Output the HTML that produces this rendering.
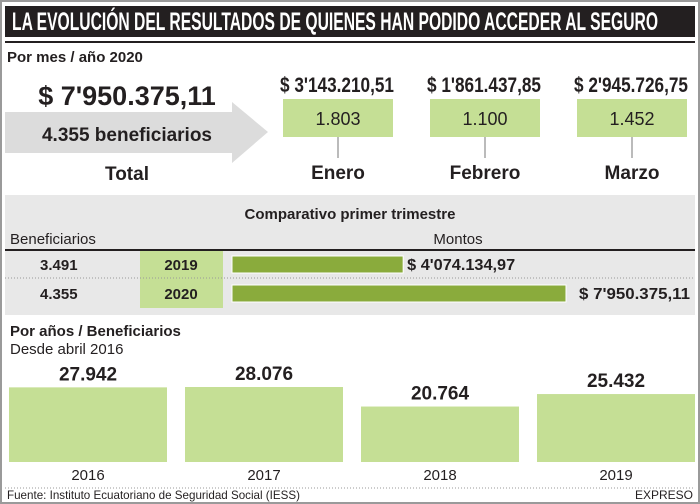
<!DOCTYPE html>
<html><head><meta charset="utf-8"><style>
html,body{margin:0;padding:0;background:#fff}
svg{display:block;font-family:"Liberation Sans",sans-serif}
.n{font-family:"Liberation Sans Narrow","Liberation Sans",sans-serif}
</style></head><body>
<svg width="700" height="504" viewBox="0 0 700 504">
<rect x="1" y="1" width="698" height="502" fill="#fff" stroke="#9a9a9a" stroke-width="2"/>
<rect x="5" y="6" width="690" height="31" fill="#231f20"/>
<text x="12" y="30" fill="#fff" font-size="25" font-weight="bold" class="n" textLength="646" lengthAdjust="spacingAndGlyphs">LA EVOLUCIÓN DEL RESULTADOS DE QUIENES HAN PODIDO ACCEDER AL SEGURO</text>
<rect x="5" y="41" width="690" height="2" fill="#231f20"/>
<text x="7" y="62" font-size="15" font-weight="bold" fill="#231f20">Por mes / año 2020</text>
<polygon points="5,112 232,112 232,102 268,132 232,163 232,153 5,153" fill="#dcdcdc"/>
<text x="127" y="105" text-anchor="middle" font-size="27" font-weight="bold" fill="#231f20">$  7'950.375,11</text>
<text x="127" y="141" text-anchor="middle" font-size="19" font-weight="bold" fill="#231f20">4.355 beneficiarios</text>
<text x="127" y="180" text-anchor="middle" font-size="19" font-weight="bold" fill="#231f20">Total</text>
<g id="months"></g>
<rect x="5" y="195" width="690" height="120" fill="#e8e8e8"/>
<text x="350" y="219" text-anchor="middle" font-size="15" font-weight="bold" class="n" fill="#231f20">Comparativo primer trimestre</text>
<text x="10" y="244" font-size="15" class="n" fill="#231f20">Beneficiarios</text>
<text x="458" y="244" text-anchor="middle" font-size="15" class="n" fill="#231f20">Montos</text>
<rect x="140" y="250" width="83" height="58" fill="#c5df95"/>
<rect x="5" y="249" width="690" height="2" fill="#231f20"/>
<line x1="5" y1="278" x2="695" y2="278" stroke="#999" stroke-dasharray="1,2"/>
<g id="comp"></g>
<text x="10" y="336" font-size="15" font-weight="bold" fill="#231f20" class="n">Por años / Beneficiarios</text>
<text x="10" y="354" font-size="15" fill="#231f20" class="n">Desde abril 2016</text>
<g id="years"></g>
<line x1="5" y1="488" x2="695" y2="488" stroke="#999" stroke-dasharray="1,2"/>
<text x="7" y="499" font-size="12" class="n" fill="#231f20" textLength="293" lengthAdjust="spacingAndGlyphs">Fuente: Instituto Ecuatoriano de Seguridad Social (IESS)</text>
<text x="693" y="499" text-anchor="end" font-size="12" class="n" fill="#231f20">EXPRESO</text>
</svg>
<script>
const NS="http://www.w3.org/2000/svg";
const monthNames=["Enero","Febrero","Marzo"];
const monthAmounts=["$ 3'143.210,51","$ 1'861.437,85","$ 2'945.726,75"];
const monthBenef=["1.803","1.100","1.452"];
const compYears=["2019","2020"];
const compBenef=["3.491","4.355"];
const compAmounts=[4074134.97,7950375.11];
const compAmountLabels=["$ 4'074.134,97","$  7'950.375,11"];
const yearCats=["2016","2017","2018","2019"];
const yearValues=[27942,28076,20764,25432];
const yearLabels=["27.942","28.076","20.764","25.432"];

function mk(tag,attrs,parent,txt){const e=document.createElementNS(NS,tag);for(const k in attrs)e.setAttribute(k,attrs[k]);if(txt!==undefined)e.textContent=txt;parent.appendChild(e);return e;}

const gm=document.getElementById("months");
monthNames.forEach((m,i)=>{
  const x0=283+i*147, cx=x0+55;
  let t=mk("text",{x:x0-3,y:92,"font-size":"21","font-weight":"bold","class":"n",fill:"#231f20",textLength:"114",lengthAdjust:"spacingAndGlyphs"},gm,monthAmounts[i]);
  
  
  let r=mk("rect",{x:x0,y:99,width:110,height:38,fill:"#c5df95"},gm);
  
  
  t=mk("text",{x:cx,y:125,"text-anchor":"middle","font-size":"18",fill:"#231f20"},gm,monthBenef[i]);
  
  
  let l=mk("line",{x1:cx,y1:137,x2:cx,y2:158,stroke:"#777"},gm);
  
  
  t=mk("text",{x:cx,y:179,"text-anchor":"middle","font-size":"19","font-weight":"bold",fill:"#231f20"},gm,m);
  
  
});

const gc=document.getElementById("comp");
const maxA=Math.max(...compAmounts);
const ax=v=>v/maxA*334;
compYears.forEach((y,i)=>{
  const cy=[265,294][i];
  let t=mk("text",{x:40,y:cy+5,"font-size":"15","font-weight":"bold","class":"n",fill:"#231f20"},gc,compBenef[i]);
  
  
  t=mk("text",{x:181,y:cy+5,"text-anchor":"middle","font-size":"15","font-weight":"bold","class":"n",fill:"#231f20"},gc,y);
  
  
  const w=ax(compAmounts[i]);
  let r=mk("rect",{x:232,y:cy-9,width:w,height:17,fill:"#8aab3c",stroke:"#fff","stroke-width":"1"},gc);
  
  
  const lx=i===1?579:232+w+4;
  t=mk("text",{x:lx,y:cy+5,"font-size":"16","font-weight":"bold","class":"n",fill:"#231f20",textLength:(i===1?"111":"108"),lengthAdjust:"spacingAndGlyphs"},gc,compAmountLabels[i]);
  
  
});

const gy=document.getElementById("years");
const base=462, maxV=28076, hMax=75;
const yscale=v=>v/maxV*hMax;
const slotX=i=>9+i*176;
yearCats.forEach((c,i)=>{
  const h=yscale(yearValues[i]), x=slotX(i), w=158;
  let r=mk("rect",{x:x,y:base-h,width:w,height:h,fill:"#c5df95"},gy);
  
  
  let t=mk("text",{x:x+w/2,y:base-h-7,"text-anchor":"middle","font-size":"19","font-weight":"bold",fill:"#231f20"},gy,yearLabels[i]);
  
  
  t=mk("text",{x:x+w/2,y:480,"text-anchor":"middle","font-size":"15",fill:"#231f20"},gy,c);
  
  
});
</script>
</body></html>
